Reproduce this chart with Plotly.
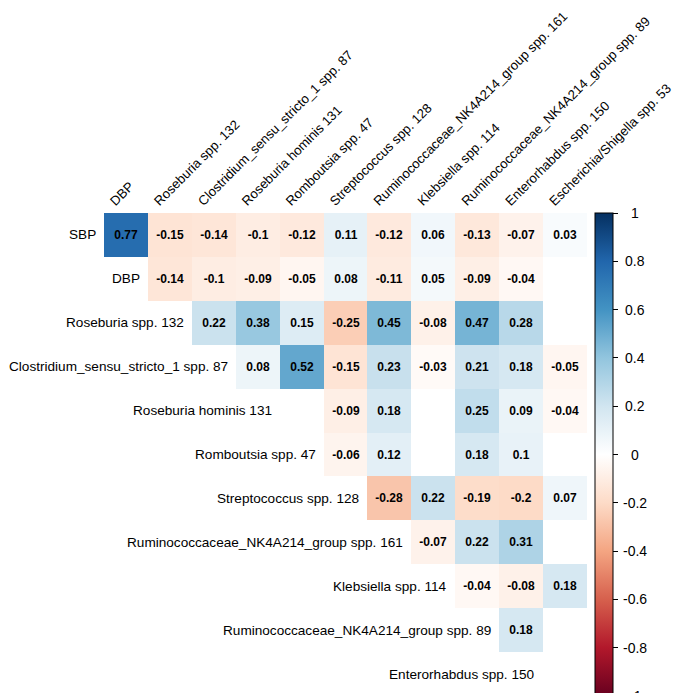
import plotly.graph_objects as go

row_labels = ["SBP", "DBP", "Roseburia spp. 132", "Clostridium_sensu_stricto_1 spp. 87",
              "Roseburia hominis 131", "Romboutsia spp. 47", "Streptococcus spp. 128",
              "Ruminococcaceae_NK4A214_group spp. 161", "Klebsiella spp. 114",
              "Ruminococcaceae_NK4A214_group spp. 89", "Enterorhabdus spp. 150"]
col_labels = ["DBP", "Roseburia spp. 132", "Clostridium_sensu_stricto_1 spp. 87",
              "Roseburia hominis 131", "Romboutsia spp. 47", "Streptococcus spp. 128",
              "Ruminococcaceae_NK4A214_group spp. 161", "Klebsiella spp. 114",
              "Ruminococcaceae_NK4A214_group spp. 89", "Enterorhabdus spp. 150",
              "Escherichia/Shigella spp. 53"]
N = None
r_sbp   = [0.77, -0.15, -0.14, -0.1, -0.12, 0.11, -0.12, 0.06, -0.13, -0.07, 0.03]
r_dbp   = [N, -0.14, -0.1, -0.09, -0.05, 0.08, -0.11, 0.05, -0.09, -0.04, N]
r_ros   = [N, N, 0.22, 0.38, 0.15, -0.25, 0.45, -0.08, 0.47, 0.28, N]
r_clos  = [N, N, N, 0.08, 0.52, -0.15, 0.23, -0.03, 0.21, 0.18, -0.05]
r_rosh  = [N, N, N, N, N, -0.09, 0.18, N, 0.25, 0.09, -0.04]
r_romb  = [N, N, N, N, N, -0.06, 0.12, N, 0.18, 0.1, N]
r_strep = [N, N, N, N, N, N, -0.28, 0.22, -0.19, -0.2, 0.07]
r_rum161 = [N, N, N, N, N, N, N, -0.07, 0.22, 0.31, N]
r_kleb  = [N, N, N, N, N, N, N, N, -0.04, -0.08, 0.18]
r_rum89 = [N, N, N, N, N, N, N, N, N, 0.18, N]
r_enter = [N, N, N, N, N, N, N, N, N, N, N]
z = [r_sbp, r_dbp, r_ros, r_clos, r_rosh, r_romb, r_strep, r_rum161, r_kleb, r_rum89, r_enter]

cbar_ticks = [1, 0.8, 0.6, 0.4, 0.2, 0, -0.2, -0.4, -0.6, -0.8, -1]

cols = ["#67001F", "#B2182B", "#D6604D", "#F4A582", "#FDDBC7", "#FFFFFF",
        "#D1E5F0", "#92C5DE", "#4393C3", "#2166AC", "#053061"]
colorscale = [[i / 10, c] for i, c in enumerate(cols)]

text = [["" if v is None else f"{v:g}" for v in row] for row in z]

FONT = "Liberation Sans, Arial, sans-serif"
LAB = 13.6
COLLAB = 13.2
nx = len(col_labels)
L, R, T, B = 96, 101, 205, 5
PW = 680 - L - R

fig = go.Figure(go.Heatmap(
    z=z, x=list(range(nx)), y=list(range(len(row_labels))),
    text=text, texttemplate="<b>%{text}</b>",
    textfont=dict(family=FONT, size=12, color="black"),
    colorscale=colorscale, zmin=-1, zmax=1, hoverongaps=False,
    colorbar=dict(
        x=(587 - L) / PW, xanchor="left", xpad=0, ypad=0,
        y=0.5, yanchor="middle", len=1, lenmode="fraction",
        thickness=18, outlinewidth=1, outlinecolor="black",
        ticks="outside", ticklen=5, tickcolor="black", tickwidth=1,
        tickvals=cbar_ticks, showticklabels=False,
    ),
))

# colorbar labels, centred like the reference
for t in cbar_ticks:
    fig.add_annotation(x=(627 - L) / PW, y=(t + 1) / 2, xref="paper", yref="paper",
                       text=f"{t:g}", showarrow=False, xanchor="center", yanchor="middle",
                       font=dict(family=FONT, size=14, color="black"))

for i, lab in enumerate(row_labels):
    fig.add_annotation(x=i - 0.5, y=i, xref="x", yref="y", text=lab,
                       showarrow=False, xanchor="right", yanchor="middle",
                       xshift=-6, font=dict(family=FONT, size=LAB, color="black"))

fig.update_xaxes(range=[-0.5, nx - 0.5], side="top", tickmode="array",
                 tickvals=list(range(nx)), ticktext=col_labels, tickangle=-45,
                 showgrid=False, zeroline=False, showline=False, ticks="",
                 tickfont=dict(family=FONT, size=COLLAB, color="black"),
                 ticklabelshift=-15, ticklabelstandoff=1,
                 ticklabeloverflow="allow", automargin=False)
fig.update_yaxes(range=[len(row_labels) - 0.5, -0.5], showticklabels=False,
                 showgrid=False, zeroline=False, showline=False, ticks="",
                 automargin=False)

fig.update_layout(width=680, height=693,
                  margin=dict(l=L, r=R, t=T, b=B),
                  paper_bgcolor="white", plot_bgcolor="white",
                  font=dict(family=FONT, color="black"))

fig.write_html("out.html")
